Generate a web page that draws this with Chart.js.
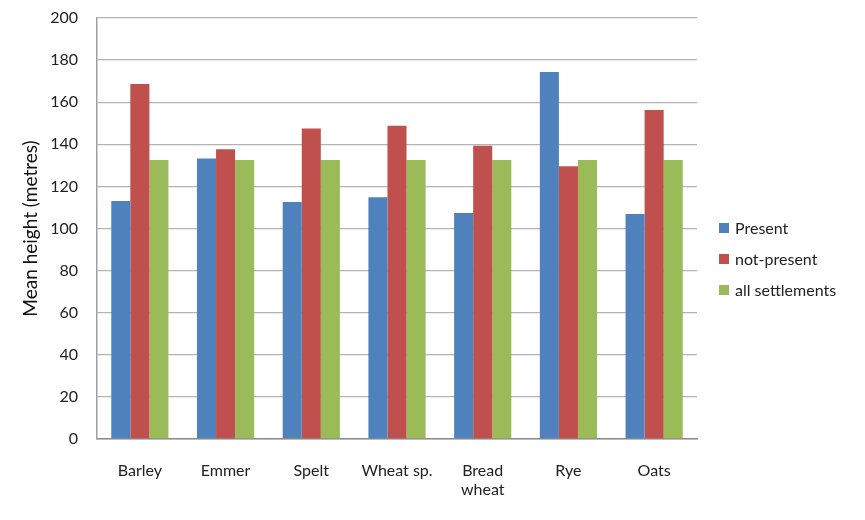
<!DOCTYPE html>
<html>
<head>
<meta charset="utf-8">
<script src="https://cdn.jsdelivr.net/npm/chart.js@4/dist/chart.umd.min.js"></script>
<style>
html,body{margin:0;padding:0;background:#fff;}
#wrap{width:865px;height:520px;position:relative;}
</style>
</head>
<body>
<div id="wrap"><canvas id="c" width="865" height="520"></canvas></div>
<script>
const categories = ['Barley', 'Emmer', 'Spelt', 'Wheat sp.', ['Bread', 'wheat'], 'Rye', 'Oats'];
const presentValues = [113.1, 133.2, 112.6, 114.9, 107.4, 174.4, 106.9];
const notPresentValues = [168.7, 137.7, 147.5, 148.8, 139.3, 129.6, 156.3];
const allSettlementsValues = [132.6, 132.6, 132.6, 132.6, 132.6, 132.6, 132.6];
const seriesNames = ['Present', 'not-present', 'all settlements'];
const yTicks = [0, 20, 40, 60, 80, 100, 120, 140, 160, 180, 200];
const yTitle = 'Mean height (metres)';

const FONT = 'Lato, "Open Sans", sans-serif';
const colors = ['#4F81BD', '#C0504D', '#9BBB59'];

const legendPlugin = {
  id: 'sideLegend',
  afterDraw(chart) {
    const ctx = chart.ctx;
    ctx.save();
    ctx.font = '16px ' + FONT;
    ctx.textBaseline = 'middle';
    ctx.textAlign = 'left';
    chart.data.datasets.forEach((ds, i) => {
      const y = 228 + i * 31;
      ctx.fillStyle = ds.backgroundColor;
      ctx.fillRect(719, y - 5, 10, 10);
      ctx.fillStyle = '#222';
      ctx.fillText(ds.label, 735, y + 1);
    });
    ctx.restore();
  }
};

new Chart(document.getElementById('c'), {
  type: 'bar',
  data: {
    labels: categories,
    datasets: [
      { label: seriesNames[0], data: presentValues, backgroundColor: colors[0] },
      { label: seriesNames[1], data: notPresentValues, backgroundColor: colors[1] },
      { label: seriesNames[2], data: allSettlementsValues, backgroundColor: colors[2] }
    ]
  },
  options: {
    responsive: false,
    animation: false,
    layout: { padding: { left: 0, right: 168, top: 18, bottom: 0 } },
    datasets: { bar: { categoryPercentage: 0.667, barPercentage: 1.0 } },
    plugins: { legend: { display: false }, tooltip: { enabled: false } },
    scales: {
      x: {
        grid: { display: false, drawTicks: false },
        border: { display: true, color: '#8c8c8c', width: 1.5 },
        ticks: { padding: 22, color: '#222', font: { family: FONT, size: 16 }, maxRotation: 0, autoSkip: false },
        afterFit(scale) { scale.height = 81; scale.paddingLeft = 0; scale.paddingRight = 0; }
      },
      y: {
        min: 0, max: 200,
        afterBuildTicks(scale) { scale.ticks = yTicks.map(v => ({ value: v })); },
        grid: { color: '#b4b4b4', lineWidth: 1.3, drawTicks: false },
        border: { display: true, color: '#a0a0a0', width: 1.5 },
        ticks: { padding: 19, color: '#222', font: { family: FONT, size: 16 } },
        title: { display: true, text: yTitle, color: '#111', font: { family: FONT, size: 19 }, padding: { top: 19, bottom: 0 } },
        afterFit(scale) { scale.width = 97; scale.paddingTop = 0; scale.paddingBottom = 0; }
      }
    }
  },
  plugins: [legendPlugin]
});
</script>
</body>
</html>
